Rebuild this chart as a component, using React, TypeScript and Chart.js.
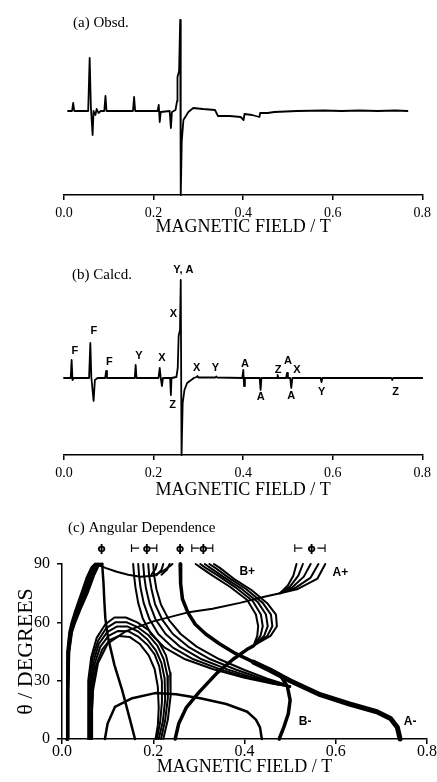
import React, { useEffect, useRef } from "react";
import { Chart, registerables } from "chart.js";
Chart.register(...registerables);

type P = [number, number];

// ---------- tick values ----------
const FIELD_TICKS = [0, 0.2, 0.4, 0.6, 0.8];
const THETA_TICKS = [0, 30, 60, 90];

// ---------- (a) observed spectrum: [field / T, signal (arb.)] ----------
const obsdSpectrum: P[] = [
  [0.009, 0], [0.018, 0], [0.0205, 8], [0.023, 0], [0.054, 0], [0.0573, 53], [0.06, 4], [0.0639, -24],
  [0.066, 0], [0.07, -4], [0.073, 2], [0.077, -2], [0.082, 0], [0.09, 0], [0.0926, 15], [0.095, 0],
  [0.154, 0], [0.1565, 14], [0.159, 0], [0.209, 0], [0.2116, 6], [0.2138, -11], [0.216, -1], [0.236, 0],
  [0.2387, -17], [0.241, -1], [0.249, 1], [0.2525, 10], [0.2534, 34], [0.257, 40], [0.2594, 91],
  [0.2607, -84], [0.263, -30], [0.2667, -9], [0.2777, -1], [0.2887, 3], [0.31, 2], [0.3372, 1],
  [0.3438, -5], [0.37, -5], [0.3945, -6], [0.4011, -9], [0.403, -3], [0.42, -4], [0.4364, -6],
  [0.438, -2], [0.455, -2], [0.4694, -1], [0.52, 0], [0.58, 0.5], [0.62, 0], [0.66, 0.5], [0.7, 0], [0.74, 0.5], [0.767, 0],
];

// ---------- (b) calculated spectrum ----------
const calcdSpectrum: P[] = [
  [0, 0], [0.015, 0], [0.017, 18], [0.019, -2], [0.022, 0], [0.056, 0], [0.0588, 35], [0.061, 1],
  [0.0661, -23], [0.069, -2], [0.075, 0], [0.092, 0], [0.094, 7], [0.096, 0], [0.158, 0], [0.16, 13],
  [0.162, 0], [0.211, 0], [0.2138, 10], [0.216, 0], [0.2188, -8], [0.221, 0], [0.237, 0], [0.2387, -17],
  [0.24, 0], [0.251, 1], [0.254, 10], [0.256, 42], [0.259, 48], [0.2607, 98], [0.2625, -77],
  [0.265, -25], [0.269, -12], [0.275, -5], [0.281, -3], [0.29, 0], [0.296, 1], [0.298, 2], [0.3, 0.5],
  [0.338, 0.5], [0.34, 1.5], [0.342, 0.5], [0.398, 0], [0.4004, 8], [0.402, -8], [0.404, 0],
  [0.437, 0], [0.439, -12], [0.441, 0], [0.476, 0], [0.477, 3], [0.479, 0], [0.496, 0], [0.498, 5],
  [0.5, 0], [0.505, 0], [0.5075, -10], [0.51, 0], [0.573, 0], [0.575, -4], [0.577, 0], [0.731, 0],
  [0.733, -2], [0.735, 0], [0.8, 0],
];

// peak assignments in (b)
const calcLabelText = ["F", "F", "F", "Y", "X", "Z", "X", "Y, A", "X", "Y", "A", "A", "Z", "A", "X", "A", "Y", "Z"];
const calcLabelField = [0.0242, 0.0668, 0.1014, 0.1675, 0.2188, 0.2424, 0.2446, 0.2667, 0.296, 0.3379, 0.404, 0.4392, 0.4782, 0.5003, 0.5201, 0.5075, 0.5752, 0.7405];
const calcLabelSignal = [27, 47, 16, 22, 20, -27, 64, 108, 10, 10, 14, -19, 8, 17, 8, -18, -14, -14];

// ---------- (c) angular dependence: [field / T, theta / deg] ----------
const wedge1: P[] = [[0.011, 0], [0.012, 25], [0.013, 45], [0.017, 55], [0.022, 60], [0.03, 66], [0.042, 74], [0.055, 83], [0.065, 88], [0.073, 90]];
const wedge2: P[] = [[0.011, 0], [0.012, 25], [0.0135, 45], [0.018, 55], [0.0235, 60], [0.032, 66.2], [0.045, 74.2], [0.058, 83.2], [0.068, 88.2], [0.077, 90]];
const wedge3: P[] = [[0.011, 0], [0.012, 25], [0.014, 45], [0.019, 55], [0.025, 60], [0.035, 66.5], [0.048, 74.5], [0.062, 83.5], [0.072, 88.5], [0.08, 90]];
const wedge4: P[] = [[0.011, 0], [0.0125, 25], [0.0145, 45], [0.02, 55], [0.0265, 60], [0.037, 66.7], [0.051, 74.7], [0.065, 83.7], [0.075, 88.7], [0.084, 90]];
const wedge5: P[] = [[0.011, 0], [0.013, 25], [0.015, 45], [0.021, 55], [0.028, 60], [0.04, 67], [0.055, 75], [0.069, 84], [0.079, 89], [0.088, 90]];
const topU: P[] = [[0.075, 90], [0.095, 88], [0.12, 86], [0.145, 84.5], [0.172, 83.5], [0.2, 84], [0.222, 86.5], [0.237, 89], [0.242, 90]];
const fan1: P[] = [[0.208, 90], [0.205, 87.5], [0.196, 84.5]];
const fan2: P[] = [[0.222, 90], [0.218, 87], [0.207, 84.2]];
const fan3: P[] = [[0.236, 90], [0.23, 87], [0.218, 84.5]];
const steepLine: P[] = [[0.088, 90], [0.091, 80], [0.093, 70], [0.095, 62], [0.101, 52], [0.115, 38], [0.132, 25], [0.149, 10], [0.16, 0]];
const arch1: P[] = [[0.057, 0], [0.057, 15], [0.058, 30], [0.064, 42], [0.076, 52], [0.095, 59], [0.115, 62.5], [0.14, 62.5], [0.165, 60], [0.19, 56], [0.212, 50], [0.228, 43], [0.237, 34], [0.238, 22], [0.232, 10], [0.222, 0]];
const arch2: P[] = [[0.059, 0], [0.059, 15], [0.06, 29], [0.066, 41], [0.079, 50.5], [0.097, 57], [0.117, 60], [0.142, 60], [0.166, 57.5], [0.189, 53.5], [0.209, 48], [0.223, 41], [0.231, 32.5], [0.232, 21], [0.226, 9.5], [0.217, 0]];
const arch3: P[] = [[0.061, 0], [0.061, 15], [0.063, 28.5], [0.069, 40], [0.081, 49], [0.099, 55], [0.12, 57.8], [0.144, 57.8], [0.167, 55.3], [0.188, 51], [0.206, 45.5], [0.218, 39], [0.225, 31], [0.226, 20], [0.221, 9], [0.212, 0]];
const arch4: P[] = [[0.063, 0], [0.064, 15], [0.065, 28], [0.072, 39], [0.084, 47.5], [0.102, 53], [0.122, 55.5], [0.146, 55.4], [0.168, 52.5], [0.187, 48.5], [0.203, 43.5], [0.213, 37.5], [0.219, 29.5], [0.219, 19], [0.215, 8.5], [0.208, 0]];
const arch5: P[] = [[0.066, 0], [0.066, 15], [0.068, 28], [0.075, 38], [0.088, 46], [0.105, 51], [0.125, 53], [0.148, 52.5], [0.17, 49], [0.19, 43], [0.203, 36], [0.21, 27], [0.212, 16], [0.21, 7], [0.205, 0]];
const lowArch: P[] = [[0.094, 0], [0.1, 8], [0.116, 16.5], [0.154, 21], [0.204, 23.6], [0.25, 23], [0.303, 21], [0.36, 18], [0.406, 14], [0.425, 10], [0.434, 6], [0.438, 0]];
const aPlusLine: P[] = [[0.064, 0], [0.065, 12], [0.068, 25], [0.079, 39], [0.1, 49], [0.14, 55.5], [0.2, 60.5], [0.274, 65], [0.33, 67], [0.39, 70], [0.441, 73], [0.478, 75]];
const aPlus1: P[] = [[0.478, 75], [0.495, 79], [0.507, 84], [0.514, 90]];
const aPlus2: P[] = [[0.478, 75], [0.5, 78.5], [0.518, 84], [0.528, 90]];
const aPlus3: P[] = [[0.478, 75], [0.505, 78], [0.53, 83.5], [0.545, 90]];
const aPlus4: P[] = [[0.478, 75], [0.51, 77.5], [0.545, 83], [0.562, 90]];
const aPlus5: P[] = [[0.478, 75], [0.515, 77], [0.56, 82.5], [0.577, 90]];
const eBand1: P[] = [[0.156, 90], [0.158, 84], [0.161, 78], [0.167, 70], [0.177, 62], [0.195, 54], [0.225, 47], [0.27, 41], [0.33, 36], [0.4, 31.5], [0.46, 28.5], [0.5, 27]];
const eBand2: P[] = [[0.167, 90], [0.169, 84], [0.172, 78], [0.179, 70], [0.191, 62], [0.211, 54], [0.243, 47], [0.288, 41], [0.347, 35.8], [0.413, 31.3], [0.467, 28.3], [0.5, 27]];
const eBand3: P[] = [[0.178, 90], [0.18, 84], [0.184, 77.5], [0.192, 69.5], [0.205, 61.5], [0.227, 54], [0.26, 47.2], [0.306, 41], [0.364, 35.7], [0.425, 31.2], [0.474, 28.2], [0.5, 27]];
const eBand4: P[] = [[0.189, 90], [0.191, 84], [0.196, 77.3], [0.204, 69.3], [0.22, 61.3], [0.243, 54], [0.277, 47.4], [0.325, 41], [0.382, 35.6], [0.437, 31.1], [0.482, 28.1], [0.5, 27]];
const eBand5: P[] = [[0.2, 90], [0.202, 84], [0.207, 77], [0.217, 69], [0.235, 61], [0.26, 54], [0.295, 47.5], [0.345, 41], [0.4, 35.5], [0.45, 31], [0.49, 28], [0.5, 27]];
const bPlusLower: P[] = [[0.248, 0], [0.256, 8], [0.272, 16], [0.3, 24], [0.34, 34], [0.375, 41], [0.405, 46], [0.42, 48]];
const bPlus1: P[] = [[0.42, 48], [0.428, 53], [0.43, 58], [0.425, 64], [0.406, 71.5], [0.368, 78.3], [0.33, 84], [0.305, 88], [0.293, 90]];
const bPlus2: P[] = [[0.42, 48], [0.435, 53], [0.44, 58], [0.436, 64], [0.418, 71], [0.38, 78], [0.342, 84], [0.315, 88], [0.303, 90]];
const bPlus3: P[] = [[0.42, 48], [0.443, 53], [0.451, 58], [0.447, 64], [0.429, 70.5], [0.392, 77.5], [0.353, 83.5], [0.325, 88], [0.313, 90]];
const bPlus4: P[] = [[0.42, 48], [0.45, 53], [0.461, 58], [0.458, 64], [0.44, 70], [0.404, 77], [0.365, 83], [0.336, 88], [0.323, 90]];
const bPlus5: P[] = [[0.42, 48], [0.457, 53], [0.471, 58], [0.469, 64], [0.451, 69.5], [0.416, 76.5], [0.376, 82.5], [0.346, 88], [0.333, 90]];
const bMinus: P[] = [[0.259, 90], [0.26, 80], [0.264, 72], [0.276, 65], [0.292, 59], [0.315, 54], [0.345, 49], [0.38, 44], [0.42, 39.5], [0.455, 36], [0.478, 33], [0.494, 27], [0.5, 20], [0.496, 13], [0.486, 6], [0.476, 0]];
const aMinus: P[] = [[0.42, 39.5], [0.455, 35.5], [0.5, 30], [0.566, 22.8], [0.63, 18], [0.69, 14], [0.72, 10.5], [0.735, 6], [0.741, 0]];

// branch labels and canonical-orientation markers in (c)
const branchText = ["B+", "A+", "B-", "A-"];
const branchField = [0.406, 0.61, 0.533, 0.763];
const branchTheta = [86, 85.5, 9, 9];
const markerText = ["ϕ", "⊢", "ϕ", "⊣", "ϕ", "⊢", "ϕ", "⊣", "⊢", "ϕ", "⊣"];
const markerField = [0.087, 0.16, 0.186, 0.2, 0.259, 0.292, 0.31, 0.323, 0.518, 0.547, 0.569];
const markerTheta = 97.4;

// ---------- helpers ----------
const SERIF = "'Liberation Serif', 'Times New Roman', serif";
const SANS = "'Liberation Sans', Arial, sans-serif";

function curve(pts: P[], width: number) {
  return {
    data: pts.map(([x, y]) => ({ x, y })),
    showLine: true,
    borderColor: "#000",
    backgroundColor: "#000",
    borderWidth: width,
    pointRadius: 0,
    pointHoverRadius: 0,
    fill: false,
    tension: 0,
    clip: false as const,
    borderJoinStyle: "round" as const,
    borderCapStyle: "round" as const,
  };
}

interface TextGroup { texts: string[]; xs: number[]; ys: number[]; font: string }
interface Caption { text: string; dx: number; dy: number }

function textPlugin(id: string, groups: TextGroup[], caption: Caption) {
  return {
    id,
    afterDatasetsDraw(chart: any) {
      const { ctx, chartArea, scales } = chart;
      ctx.save();
      ctx.fillStyle = "#000";
      ctx.textAlign = "center";
      ctx.textBaseline = "middle";
      for (const g of groups) {
        ctx.font = g.font;
        g.texts.forEach((t, i) => {
          ctx.fillText(t, scales.x.getPixelForValue(g.xs[i]), scales.y.getPixelForValue(g.ys[i]));
        });
      }
      ctx.font = `15px ${SERIF}`;
      ctx.textAlign = "left";
      ctx.fillText(caption.text, chartArea.left + caption.dx, chartArea.top + caption.dy);
      ctx.restore();
    },
  };
}

const gridStyle = {
  display: true,
  drawOnChartArea: false,
  drawTicks: true,
  tickLength: 5,
  tickWidth: 1.5,
  tickColor: "#000",
  color: "#000",
  lineWidth: 1.5,
};
const borderStyle = { display: true, color: "#000", width: 1.5 };

function fieldAxis(height: number, tickSize: number, tickPad: number) {
  return {
    type: "linear" as const,
    min: 0,
    max: 0.8,
    afterBuildTicks: (s: any) => {
      s.ticks = FIELD_TICKS.map((v) => ({ value: v }));
    },
    afterFit: (s: any) => {
      s.height = height;
    },
    ticks: {
      callback: (v: any) => Number(v).toFixed(1),
      font: { family: SERIF, size: tickSize, lineHeight: 1 },
      color: "#000",
      padding: tickPad,
      maxRotation: 0,
      autoSkip: false,
    },
    grid: gridStyle,
    border: borderStyle,
    title: {
      display: true,
      text: "MAGNETIC FIELD / T",
      font: { family: SERIF, size: 18, lineHeight: 1 },
      color: "#000",
      padding: 0,
    },
  };
}

function baseOptions(padding: any, scales: any) {
  return {
    animation: false as const,
    responsive: false,
    maintainAspectRatio: false,
    events: [] as any[],
    layout: { padding },
    plugins: { legend: { display: false }, tooltip: { enabled: false }, title: { display: false } },
    scales,
  };
}

export default function App() {
  const refA = useRef<HTMLCanvasElement>(null);
  const refB = useRef<HTMLCanvasElement>(null);
  const refC = useRef<HTMLCanvasElement>(null);

  useEffect(() => {
    const charts: Chart[] = [];

    charts.push(
      new Chart(refA.current!, {
        type: "scatter",
        data: { datasets: [curve(obsdSpectrum, 1.8)] as any },
        options: baseOptions(
          { top: 10, left: 64, right: 10, bottom: 4 },
          { x: fieldAxis(41, 14, 6), y: { type: "linear", min: -84, max: 101, display: false } }
        ) as any,
        plugins: [textPlugin("capA", [], { text: "(a) Obsd.", dx: 9, dy: 13 })],
      })
    );

    charts.push(
      new Chart(refB.current!, {
        type: "scatter",
        data: { datasets: [curve(calcdSpectrum, 1.8)] as any },
        options: baseOptions(
          { top: 22, left: 64, right: 10, bottom: 3 },
          { x: fieldAxis(44, 14, 6), y: { type: "linear", min: -77, max: 116, display: false } }
        ) as any,
        plugins: [
          textPlugin(
            "capB",
            [{ texts: calcLabelText, xs: calcLabelField, ys: calcLabelSignal, font: `bold 11px ${SANS}` }],
            { text: "(b) Calcd.", dx: 8, dy: 13 }
          ),
        ],
      })
    );

    const thin = 2;
    const datasetsC = [
      curve(wedge1, 3), curve(wedge2, 3), curve(wedge3, 3), curve(wedge4, 3), curve(wedge5, 3),
      curve(topU, thin), curve(fan1, thin), curve(fan2, thin), curve(fan3, thin),
      curve(steepLine, 2.5),
      curve(arch1, thin), curve(arch2, thin), curve(arch3, thin), curve(arch4, thin), curve(arch5, thin),
      curve(lowArch, 2.5),
      curve(aPlusLine, 2),
      curve(aPlus1, thin), curve(aPlus2, thin), curve(aPlus3, thin), curve(aPlus4, thin), curve(aPlus5, thin),
      curve(eBand1, thin), curve(eBand2, thin), curve(eBand3, thin), curve(eBand4, thin), curve(eBand5, thin),
      curve(bPlusLower, 3.5),
      curve(bPlus1, thin), curve(bPlus2, thin), curve(bPlus3, thin), curve(bPlus4, thin), curve(bPlus5, thin),
      curve(bMinus, 3.5),
      curve(aMinus, 5),
    ];

    charts.push(
      new Chart(refC.current!, {
        type: "scatter",
        data: { datasets: datasetsC as any },
        options: baseOptions(
          { top: 62, left: 15, right: 10, bottom: 6 },
          {
            x: fieldAxis(37, 16, 0),
            y: {
              type: "linear",
              min: 0,
              max: 90,
              afterBuildTicks: (s: any) => {
                s.ticks = THETA_TICKS.map((v) => ({ value: v }));
              },
              afterFit: (s: any) => {
                s.width = 47;
              },
              ticks: {
                callback: (v: any) => String(v),
                font: { family: SERIF, size: 16, lineHeight: 1 },
                color: "#000",
                padding: 7,
              },
              grid: gridStyle,
              border: borderStyle,
              title: {
                display: true,
                text: "θ / DEGREES",
                font: { family: SERIF, size: 22, lineHeight: 1 },
                color: "#000",
                padding: 0,
              },
            },
          }
        ) as any,
        plugins: [
          textPlugin(
            "capC",
            [
              { texts: branchText, xs: branchField, ys: branchTheta, font: `bold 12px ${SANS}` },
              { texts: markerText, xs: markerField, ys: markerText.map(() => markerTheta), font: `bold 11px 'DejaVu Sans', sans-serif` },
            ],
            { text: "(c) Angular Dependence", dx: 6, dy: -36 }
          ),
        ],
      })
    );

    return () => charts.forEach((c) => c.destroy());
  }, []);

  const box: React.CSSProperties = { position: "absolute", left: 0, width: 437, display: "block" };
  return (
    <div style={{ position: "fixed", left: 0, top: 0, width: 437, height: 782, background: "#fff", overflow: "hidden" }}>
      <canvas ref={refA} width={437} height={240} style={{ ...box, top: 0, height: 240 }} />
      <canvas ref={refB} width={437} height={262} style={{ ...box, top: 240, height: 262 }} />
      <canvas ref={refC} width={437} height={280} style={{ ...box, top: 502, height: 280 }} />
    </div>
  );
}
